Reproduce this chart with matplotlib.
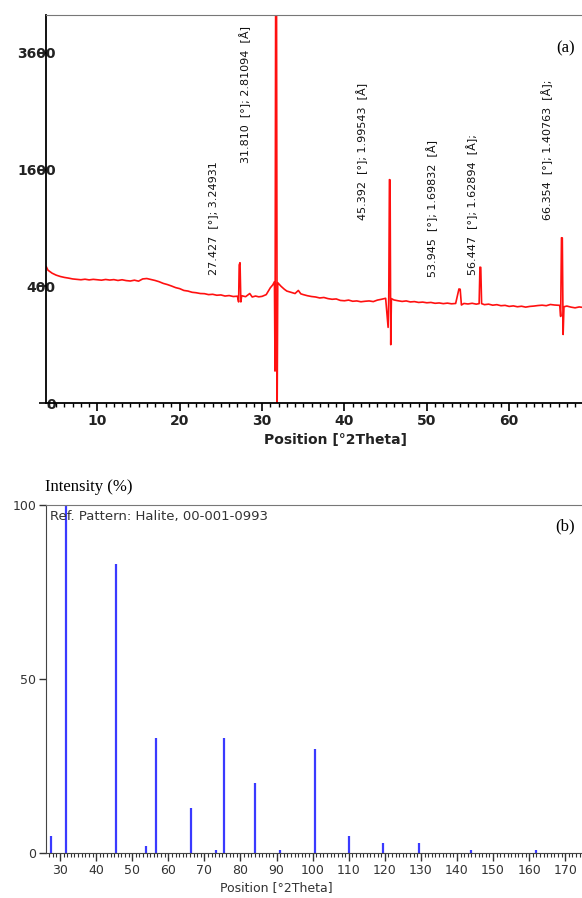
import numpy as np
import matplotlib

matplotlib.use("Agg")
import matplotlib.pyplot as plt
from matplotlib.ticker import MultipleLocator

two_theta = [3.8, 4.0, 4.5, 5.0, 5.5, 6.0, 6.5, 7.0, 7.5, 8.0, 8.5, 9.0, 9.5, 10.0, 10.5,
             11.0, 11.5, 12.0, 12.5, 13.0, 13.5, 14.0, 14.5, 15.0, 15.5, 16.0, 16.5, 17.0,
             17.5, 18.0, 18.5, 19.0, 19.5, 20.0, 20.5, 21.0, 21.5, 22.0, 22.5, 23.0, 23.5,
             24.0, 24.5, 25.0, 25.5, 26.0, 26.5, 27.0, 27.15, 27.22, 27.32, 27.42, 27.52,
             28.0, 28.5, 28.8, 29.2, 29.6, 30.0, 30.5, 31.0, 31.3, 31.5, 31.57, 31.65, 31.75,
             31.83, 31.9, 32.3, 32.7, 33.0, 33.5, 34.0, 34.4, 34.7, 35.0, 35.5, 36.0, 36.5,
             37.0, 37.5, 38.0, 38.5, 39.0, 39.5, 40.0, 40.5, 41.0, 41.5, 42.0, 42.5, 43.0,
             43.5, 44.0, 44.5, 45.0, 45.3, 45.38, 45.46, 45.54, 45.62, 45.7, 46.0, 46.5, 47.0,
             47.5, 48.0, 48.5, 49.0, 49.5, 50.0, 50.5, 51.0, 51.5, 52.0, 52.5, 53.0, 53.5,
             53.9, 54.05, 54.2, 54.5, 55.0, 55.5, 56.0, 56.35, 56.45, 56.55, 56.65, 57.0, 57.5,
             58.0, 58.5, 59.0, 59.5, 60.0, 60.5, 61.0, 61.5, 62.0, 62.5, 63.0, 63.5, 64.0,
             64.5, 65.0, 65.5, 66.15, 66.25, 66.35, 66.45, 66.55, 66.65, 67.0, 67.5, 68.0, 68.5,
             69.0, 69.8]
counts = [545, 518, 495, 480, 470, 463, 458, 452, 449, 446, 450, 445, 449, 446, 443,
          448, 444, 447, 441, 446, 440, 437, 443, 436, 452, 455, 448, 441,
          432, 420, 412, 402, 391, 384, 372, 368, 360, 357, 352, 351, 345,
          347, 341, 343, 336, 339, 333, 335, 300, 560, 578, 300, 338,
          332, 352, 330, 336, 331, 334, 345, 390, 410, 432, 30, 5200, 5200,
          0, 425, 400, 380, 368, 360, 352, 372, 350, 345, 338, 333, 330,
          324, 327, 320, 316, 318, 309, 307, 311, 304, 306, 301, 304, 306,
          302, 311, 316, 322, 168, 330, 1465, 1460, 100, 320, 312, 307, 303,
          306, 300, 302, 297, 299, 295, 297, 292, 294, 290, 293, 289, 291,
          382, 380, 282, 291, 288, 292, 287, 290, 542, 540, 290, 284, 287,
          281, 284, 278, 280, 274, 277, 272, 275, 270, 274, 276, 279, 281,
          278, 285, 282, 280, 220, 802, 800, 138, 272, 276, 270, 266, 271,
          268, 270]

a_ticks = [0, 400, 1600, 3600]
peak_labels = ["27.427  [°]; 3.24931",
               "31.810  [°]; 2.81094  [Å]",
               "45.392  [°]; 1.99543  [Å]",
               "53.945  [°]; 1.69832  [Å]",
               "56.447  [°]; 1.62894  [Å];",
               "66.354  [°]; 1.40763  [Å];"]
label_x = [0.307, 0.366, 0.581, 0.710, 0.783, 0.921]
label_y = [0.330, 0.619, 0.472, 0.325, 0.330, 0.472]

# (b) reference pattern, Halite 00-001-0993
ref_pos = [27.4, 31.7, 45.4, 53.9, 56.5, 66.3, 73.1, 75.3, 84.0, 91.0, 100.6, 110.1,
           119.6, 129.5, 143.9, 161.9]
ref_int = [5, 100, 83, 2, 33, 13, 1, 33, 20, 1, 30, 5, 3, 3, 1, 1]

serif = ["Liberation Serif", "DejaVu Serif"]

fig = plt.figure(figsize=(5.82, 8.98), dpi=100)

# ---- panel (a)
ax = fig.add_axes([0.079, 0.5512, 0.935, 0.4321])
ax.plot(two_theta, counts, color="#ff1010", lw=1.2)
ax.set_yscale("function", functions=(lambda v: np.sqrt(np.clip(v, 0, None)), np.square))
ax.set_ylim(0, 4420)
ax.set_xlim(3.76, 69.83)
ax.set_yticks(a_ticks)
ax.set_yticklabels([str(t) for t in a_ticks])
ax.xaxis.set_major_locator(MultipleLocator(10))
ax.xaxis.set_minor_locator(MultipleLocator(1))
ax.tick_params(axis="x", which="major", length=6, width=1.2, direction="out", labelsize=10, pad=2)
ax.tick_params(axis="x", which="minor", length=3, width=1.0, direction="out")
ax.tick_params(axis="y", length=5, width=1.2, direction="out", labelsize=10, pad=-12)
for lab in ax.get_xticklabels() + ax.get_yticklabels():
    lab.set_fontweight("bold")
    lab.set_color("#222222")
ax.spines["right"].set_visible(False)
ax.spines["top"].set_color("#777777")
ax.spines["left"].set_linewidth(1.3)
ax.spines["bottom"].set_linewidth(1.3)
for s, xf, yf in zip(peak_labels, label_x, label_y):
    ax.text(xf, yf, s, transform=ax.transAxes, rotation=90, ha="center", va="bottom",
            fontsize=8, color="#111111")
ax.text(0.954, 0.915, "(a)", transform=ax.transAxes, ha="center", va="center",
        fontsize=12, family=serif)
fig.text(335 / 582, 1 - 440 / 898, "Position [°2Theta]", ha="center", va="center",
         fontsize=10, fontweight="bold", color="#222222")

# ---- panel (b)
bx = fig.add_axes([0.079, 0.0501, 0.935, 0.3875])
bx.vlines(ref_pos, 0, ref_int, color="#3a3aff", lw=1.6)
bx.set_xlim(26.1, 176.9)
bx.set_ylim(0, 100)
bx.set_yticks([0, 50, 100])
bx.xaxis.set_major_locator(MultipleLocator(10))
bx.xaxis.set_minor_locator(MultipleLocator(1))
bx.tick_params(axis="x", which="major", length=6, width=1.0, direction="out", labelsize=9,
               pad=2, colors="#333333")
bx.tick_params(axis="x", which="minor", length=3, width=0.8, direction="out", colors="#333333")
bx.tick_params(axis="y", length=5, width=1.0, direction="out", labelsize=9, pad=2, colors="#333333")
bx.spines["right"].set_visible(False)
bx.spines["top"].set_color("#777777")
bx.spines["left"].set_color("#444444")
bx.spines["bottom"].set_color("#444444")
bx.text(0.008, 0.985, "Ref. Pattern: Halite, 00-001-0993", transform=bx.transAxes,
        ha="left", va="top", fontsize=9.5, color="#333333")
bx.text(0.954, 0.94, "(b)", transform=bx.transAxes, ha="center", va="center",
        fontsize=12, family=serif)
fig.text(45 / 582, 1 - 487 / 898, "Intensity (%)", ha="left", va="center",
         fontsize=12, family=serif)
fig.text(276 / 582, 1 - 888 / 898, "Position [°2Theta]", ha="center", va="center",
         fontsize=9, color="#333333")

fig.savefig("out.png", dpi=100)
